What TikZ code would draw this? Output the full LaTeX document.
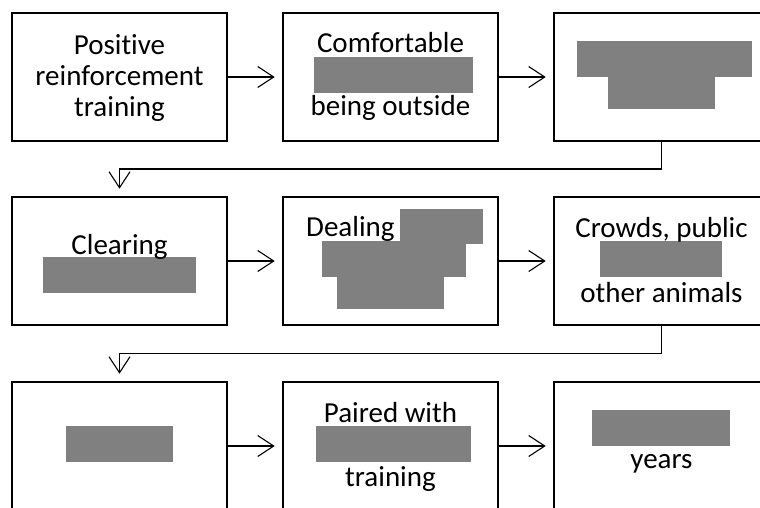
\documentclass[tikz,border=0pt]{standalone}
\usepackage{fontspec}
\setmainfont{Carlito}[Ligatures=NoCommon]
\usepackage{tikz}
\usetikzlibrary{calc}
\usetikzlibrary{arrows.meta}
\definecolor{redact}{RGB}{128, 128, 128}

\tikzset{
    stagebox/.style  = {draw, line width=2.6pt, minimum width=215pt, minimum height=128pt, inner sep=0pt},
    stagetext/.style = {anchor=base, inner sep=0pt, font=\fontsize{29}{33}\selectfont},
    link/.style      = {line width=1.1pt, -{Straight Barb[length=16pt,width=21pt]}, shorten >=7pt},
}

\begin{document}
\begin{tikzpicture}[x=1pt, y=-1pt]
            % Frame (picture is cropped on the right and at the bottom)
            \useasboundingbox (0, 0) rectangle (760, 507);
            \clip             (0, 0) rectangle (760, 507);
            % Stage boxes
            \node[stagebox] (s1) at (119.5,  77) {};
            \node[stagebox] (s2) at (390.5,  77) {};
            \node[stagebox] (s3) at (661.5,  77) {};
            \node[stagebox] (s4) at (119.5, 261) {};
            \node[stagebox] (s5) at (390.5, 261) {};
            \node[stagebox] (s6) at (661.5, 261) {};
            \node[stagebox] (s7) at (119.5, 446) {};
            \node[stagebox] (s8) at (390.5, 446) {};
            \node[stagebox] (s9) at (661.5, 446) {};
            % Redacted parts
            \fill[redact] (314,  57) rectangle (473,  93);
            \fill[redact] (577,  41) rectangle (752,  77);
            \fill[redact] (608,  77) rectangle (715, 109);
            \fill[redact] ( 43, 257) rectangle (196, 293);
            \fill[redact] (400, 209) rectangle (483, 244);
            \fill[redact] (322, 241) rectangle (466, 277);
            \fill[redact] (337, 277) rectangle (444, 309);
            \fill[redact] (600, 241) rectangle (722, 277);
            \fill[redact] ( 66, 426) rectangle (173, 462);
            \fill[redact] (316, 426) rectangle (471, 462);
            \fill[redact] (592, 410) rectangle (730, 446);
            % Texts
            \node[stagetext] (s1a) at (119.5,  54) {Positive};
            \node[stagetext] (s1b) at (119.5,  85) {reinforcement};
            \node[stagetext] (s1c) at (119.5, 116) {training};
            \node[stagetext] (s2a) at (390.5,  52) {Comfortable};
            \node[stagetext] (s2b) at (390.5, 115) {being outside};
            \node[stagetext] (s4a) at (119.5, 254) {Clearing};
            \node[stagetext, anchor=base west] (s5a) at (306, 236) {Dealing};
            \node[stagetext] (s6a) at (661.5, 237) {Crowds, public};
            \node[stagetext] (s6b) at (661.5, 302) {other animals};
            \node[stagetext] (s8a) at (390.5, 422) {Paired with};
            \node[stagetext] (s8b) at (390.5, 486) {training};
            \node[stagetext] (s9a) at (661.5, 468) {years};
            % Connectors
            \draw[link] (s1) -- (s2);
            \draw[link] (s2) -- (s3);
            \draw[link] (s4) -- (s5);
            \draw[link] (s5) -- (s6);
            \draw[link] (s7) -- (s8);
            \draw[link] (s8) -- (s9);
            \draw[link] (s3.south) |- ($(s3.south)!0.5!(s4.north)$) -| (s4.north);
            \draw[link] (s6.south) |- ($(s6.south)!0.5!(s7.north)$) -| (s7.north);
        \end{tikzpicture}
\end{document}
